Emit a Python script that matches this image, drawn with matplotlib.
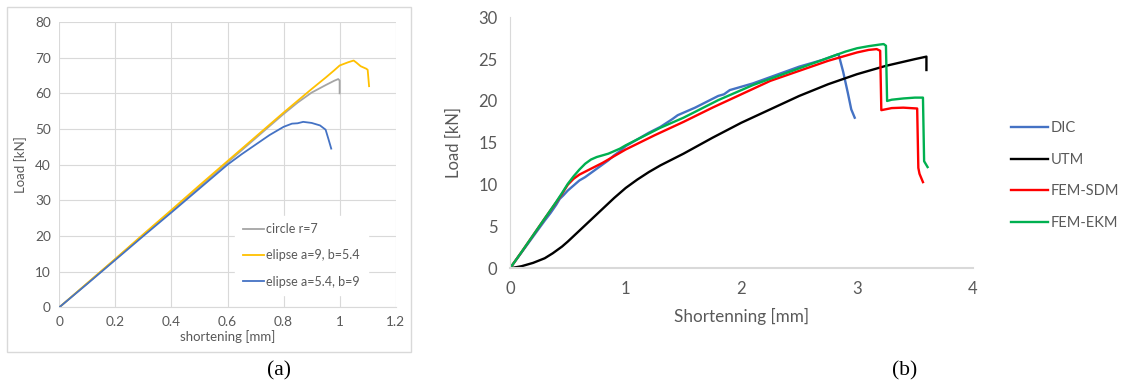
import matplotlib
matplotlib.use("Agg")
import matplotlib.pyplot as plt
from matplotlib.patches import Rectangle

# ---- panel (a): shortening [mm] vs load [kN]
circle_x = [0, 0.1, 0.2, 0.3, 0.4, 0.5, 0.6, 0.7, 0.8, 0.85, 0.9, 0.95, 0.98, 0.995, 1.0, 1.0]
circle_y = [0, 6.7, 13.5, 20.3, 27.0, 33.8, 40.6, 47.4, 54.2, 57.4, 60.2, 62.3, 63.5, 64.0, 63.6, 60.0]
ell1_x = [0, 0.1, 0.2, 0.3, 0.4, 0.5, 0.6, 0.7, 0.8, 0.85, 0.9, 0.95, 0.98, 1.0, 1.03, 1.05, 1.06, 1.075, 1.095, 1.1, 1.105]
ell1_y = [0, 6.8, 13.6, 20.5, 27.3, 34.2, 41.0, 47.8, 54.6, 57.9, 61.2, 64.4, 66.4, 67.8, 68.7, 69.2, 68.6, 67.6, 66.9, 66.6, 62.0]
ell2_x = [0, 0.1, 0.2, 0.3, 0.4, 0.5, 0.6, 0.65, 0.7, 0.75, 0.8, 0.83, 0.85, 0.87, 0.9, 0.93, 0.95, 0.96, 0.97]
ell2_y = [0, 6.6, 13.3, 20.0, 26.6, 33.3, 40.0, 42.9, 45.6, 48.3, 50.6, 51.5, 51.6, 52.0, 51.7, 51.0, 49.8, 47.2, 44.5]

# ---- panel (b)
dic_x = [0, 0.1, 0.2, 0.3, 0.35, 0.4, 0.43, 0.46, 0.5, 0.55, 0.6, 0.65, 0.7, 0.75, 0.8, 0.85, 0.9, 0.95, 1.0,
         1.1, 1.2, 1.3, 1.4, 1.45, 1.5, 1.6, 1.7, 1.8, 1.85, 1.9, 2.0, 2.1, 2.2, 2.3, 2.4, 2.5, 2.6, 2.7, 2.8,
         2.84, 2.88, 2.92, 2.95, 2.98]
dic_y = [0, 1.9, 3.8, 5.7, 6.6, 7.6, 8.3, 8.7, 9.3, 9.9, 10.5, 10.9, 11.4, 11.9, 12.4, 12.9, 13.5, 14.0, 14.6,
         15.4, 16.2, 16.9, 17.8, 18.3, 18.6, 19.2, 19.9, 20.6, 20.8, 21.3, 21.7, 22.1, 22.6, 23.1, 23.6, 24.1, 24.5, 24.9, 25.4,
         25.6, 23.5, 21.0, 19.0, 18.0]
utm_x = [0, 0.1, 0.2, 0.3, 0.37, 0.45, 0.5, 0.6, 0.7, 0.8, 0.9, 1.0, 1.1, 1.2, 1.3, 1.4, 1.5, 1.75, 2.0,
         2.25, 2.5, 2.75, 3.0, 3.25, 3.5, 3.6, 3.6]
utm_y = [0, 0.25, 0.65, 1.2, 1.8, 2.6, 3.2, 4.5, 5.8, 7.1, 8.4, 9.6, 10.6, 11.5, 12.3, 13.0, 13.7, 15.6, 17.4,
         19.0, 20.6, 22.0, 23.2, 24.2, 25.0, 25.3, 23.7]
sdm_x = [0, 0.1, 0.2, 0.3, 0.4, 0.45, 0.5, 0.55, 0.6, 0.7, 0.8, 0.9, 1.0, 1.25, 1.5, 1.75, 2.0, 2.25, 2.5, 2.75, 3.0,
         3.1, 3.17, 3.2, 3.21, 3.3, 3.4, 3.52, 3.53, 3.54, 3.57]
sdm_y = [0, 1.95, 3.95, 5.95, 7.9, 8.9, 10.0, 10.7, 11.2, 11.9, 12.6, 13.4, 14.2, 15.9, 17.5, 19.2, 20.8, 22.4, 23.6, 24.8, 25.8,
         26.1, 26.2, 26.0, 18.9, 19.15, 19.2, 19.1, 12.0, 11.3, 10.3]
ekm_x = [0, 0.1, 0.2, 0.3, 0.4, 0.45, 0.5, 0.55, 0.6, 0.65, 0.7, 0.75, 0.8, 0.85, 0.9, 0.95, 1.0, 1.1, 1.2, 1.3, 1.4,
         1.5, 1.6, 1.7, 1.8, 1.9, 2.0, 2.1, 2.2, 2.3, 2.4, 2.5, 2.6, 2.7, 2.8, 2.9, 3.0, 3.1, 3.2, 3.23, 3.25,
         3.26, 3.3, 3.4, 3.5, 3.57, 3.58, 3.61]
ekm_y = [0, 1.95, 3.95, 5.95, 7.95, 9.0, 10.1, 11.0, 11.8, 12.5, 13.0, 13.3, 13.5, 13.7, 14.0, 14.3, 14.7, 15.4, 16.1, 16.8, 17.4,
         18.0, 18.7, 19.4, 20.1, 20.7, 21.3, 21.9, 22.4, 22.9, 23.4, 23.9, 24.4, 24.9, 25.4, 25.9, 26.3, 26.55, 26.75, 26.8, 26.6,
         20.0, 20.15, 20.3, 20.4, 20.4, 12.8, 12.1]

TICK_COLOR = "#595959"
plt.rcParams["font.family"] = ["Lato", "DejaVu Sans"]

fig = plt.figure(figsize=(11.22, 3.83), dpi=100)

# panel (a) frame
fig.patches.append(Rectangle((7 / 1122, 1 - 352 / 383), 404 / 1122, 345 / 383,
                             transform=fig.transFigure, fill=False,
                             edgecolor="#d9d9d9", linewidth=1.0))

ax1 = fig.add_axes([59.3 / 1122, 1 - 307.3 / 383, 336.4 / 1122, 285.3 / 383])
ax1.plot(circle_x, circle_y, color="#a5a5a5", lw=1.3, label="circle r=7")
ax1.plot(ell1_x, ell1_y, color="#ffc000", lw=1.3, label="elipse a=9, b=5.4")
ax1.plot(ell2_x, ell2_y, color="#4472c4", lw=1.3, label="elipse a=5.4, b=9")
ax1.set_xlim(0, 1.2)
ax1.set_ylim(0, 80)
ax1.set_xticks([0, 0.2, 0.4, 0.6, 0.8, 1, 1.2])
ax1.set_xticklabels(["0", "0.2", "0.4", "0.6", "0.8", "1", "1.2"])
ax1.set_yticks(range(0, 81, 10))
ax1.grid(True, color="#d9d9d9", lw=0.8)
ax1.set_axisbelow(True)
for s in ["top", "right", "left"]:
    ax1.spines[s].set_visible(False)
ax1.spines["bottom"].set_color("#d9d9d9")
ax1.tick_params(length=0, labelsize=9.8, colors=TICK_COLOR, pad=6)
ax1.set_xlabel("shortening [mm]", fontsize=9.5, color=TICK_COLOR, labelpad=2)
ax1.set_ylabel("Load [kN]", fontsize=9.5, color=TICK_COLOR, labelpad=6)
leg1 = ax1.legend(loc="lower right", bbox_to_anchor=(0.935, 0.02), frameon=True,
                  fontsize=9, handlelength=1.7, handletextpad=0.2,
                  labelspacing=1.15, borderpad=0.6, labelcolor=TICK_COLOR)
leg1.get_frame().set_facecolor("white")
leg1.get_frame().set_edgecolor("white")
leg1.get_frame().set_alpha(1.0)

# panel (b)
ax2 = fig.add_axes([510 / 1122, 1 - 268.3 / 383, 462.7 / 1122, 251 / 383])
ax2.plot(dic_x, dic_y, color="#4472c4", lw=1.7, label="DIC")
ax2.plot(utm_x, utm_y, color="black", lw=1.7, label="UTM")
ax2.plot(sdm_x, sdm_y, color="#ff0000", lw=1.7, label="FEM-SDM")
ax2.plot(ekm_x, ekm_y, color="#00b050", lw=1.7, label="FEM-EKM")
ax2.set_xlim(0, 4)
ax2.set_ylim(0, 30)
ax2.set_xticks(range(0, 5))
ax2.set_yticks(range(0, 31, 5))
ax2.spines["top"].set_visible(False)
ax2.spines["right"].set_visible(False)
ax2.spines["left"].set_color("#d9d9d9")
ax2.spines["bottom"].set_color("#d9d9d9")
ax2.spines["bottom"].set_linewidth(1.5)
ax2.tick_params(length=0, labelsize=12, colors=TICK_COLOR, pad=9)
ax2.set_xlabel("Shortenning [mm]", fontsize=12.3, color=TICK_COLOR, labelpad=8)
ax2.set_ylabel("Load [kN]", fontsize=12, color=TICK_COLOR, labelpad=12)
fig.legend(*ax2.get_legend_handles_labels(), loc="upper left",
           bbox_to_anchor=(998 / 1122, 1 - 108 / 383), frameon=False,
           fontsize=10.5, handlelength=2.5, handletextpad=0.2,
           labelspacing=1.2, labelcolor=TICK_COLOR)

fig.text(279 / 1122, 1 - 371 / 383, "(a)", fontsize=15.5, family="Liberation Serif",
         ha="center", va="center")
fig.text(905 / 1122, 1 - 371 / 383, "(b)", fontsize=15.5, family="Liberation Serif",
         ha="center", va="center")

fig.savefig("out.png", dpi=100)
